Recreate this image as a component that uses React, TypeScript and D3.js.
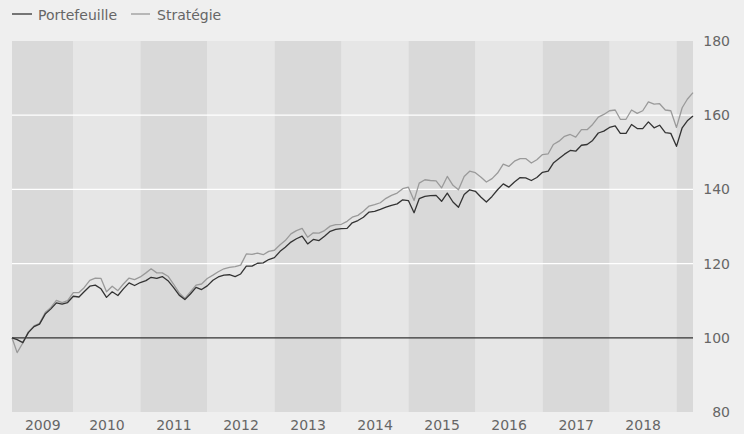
import React from "react";
import * as d3 from "d3";

const WIDTH = 744;
const HEIGHT = 434;

// Monthly month-end observations, Jan 2009 – Mar 2019
const startMonth = "2009-01";
const endMonth = "2019-03";

const portefeuille = [
  100, 99.5, 98.7, 101.4, 103.0, 103.7, 106.4, 107.8, 109.4, 109.1, 109.5, 111.2,
  111.0, 112.4, 113.9, 114.2, 113.2, 110.9, 112.4, 111.4, 113.2, 114.8, 114.1, 114.9,
  115.4, 116.3, 116.0, 116.5, 115.4, 113.6, 111.5, 110.3, 111.8, 113.6, 113.0, 114.0,
  115.5, 116.4, 116.9, 117.0, 116.5, 117.2, 119.3, 119.3, 120.1, 120.2, 121.1, 121.6,
  123.3, 124.4, 125.8, 126.7, 127.4, 125.3, 126.5, 126.2, 127.4, 128.7, 129.2, 129.4,
  129.5, 131.0, 131.6, 132.5, 133.9, 134.1, 134.6, 135.2, 135.7, 136.1, 137.2, 137.0,
  133.7, 137.5, 138.1, 138.3, 138.4, 136.8, 139.0, 136.6, 135.2, 138.6, 139.9, 139.5,
  137.9, 136.6, 138.1, 139.9, 141.5, 140.6, 142.0, 143.2, 143.1, 142.4, 143.2, 144.6,
  144.9, 147.1, 148.3, 149.5, 150.5, 150.3, 151.9, 152.1, 153.2, 155.2, 155.7, 156.7,
  157.1, 155.1, 155.1, 157.5, 156.4, 156.4, 158.2, 156.6, 157.3, 155.3, 155.1, 151.6,
  156.6, 158.5, 159.8,
];

const strategie = [
  100, 96.0, 98.6, 101.6, 103.2, 103.9, 106.8, 108.2, 110.1, 109.5, 110.0, 112.2,
  112.2, 113.5, 115.5, 116.1, 116.0, 112.4, 113.9, 112.7, 114.5, 116.1, 115.7, 116.4,
  117.5, 118.6, 117.5, 117.5, 116.6, 114.5, 112.1, 110.6, 112.4, 114.2, 114.5, 116.0,
  116.9, 117.8, 118.6, 119.0, 119.2, 119.6, 122.6, 122.5, 122.8, 122.4, 123.3, 123.6,
  125.1, 126.2, 128.0, 128.9, 129.5, 127.1, 128.3, 128.2, 128.9, 130.1, 130.5, 130.6,
  131.4, 132.5, 133.0, 134.1, 135.5, 135.9, 136.4, 137.6, 138.4, 139.0, 140.2, 140.6,
  137.0, 141.7, 142.6, 142.4, 142.3, 140.4, 143.5, 141.1, 139.9, 143.5, 144.9, 144.5,
  143.3, 142.0, 142.9, 144.4, 146.8, 146.2, 147.6, 148.3, 148.3, 147.1, 148.0, 149.4,
  149.6, 152.1, 153.0, 154.3, 154.8, 154.1, 156.1, 156.1, 157.5, 159.5, 160.2, 161.2,
  161.4, 158.9, 158.9, 161.4, 160.5, 161.2, 163.6, 163.0, 163.1, 161.4, 161.2, 156.7,
  162.0, 164.3, 166.1,
];

const yTicks = [80, 100, 120, 140, 160, 180];
const gridValues = [120, 140, 160];
const years = [2009, 2010, 2011, 2012, 2013, 2014, 2015, 2016, 2017, 2018, 2019];

const seriesNames = ["Portefeuille", "Stratégie"];
const seriesColors = ["#333333", "#9a9a9a"];

const FONT = "'DejaVu Sans', Verdana, sans-serif";

export default function App() {
  const parseMonth = d3.timeParse("%Y-%m");
  const m0 = parseMonth(startMonth) as Date;
  const m1 = parseMonth(endMonth) as Date;
  // month-end dates
  const dates = d3
    .timeMonth.range(m0, d3.timeMonth.offset(m1, 1))
    .map((d) => d3.timeDay.offset(d3.timeMonth.offset(d, 1), -1));

  const left = 12;
  const right = 693;
  const top = 41;
  const bottom = 412;

  const x = d3
    .scaleTime()
    .domain([dates[0], dates[dates.length - 1]])
    .range([left, right]);
  const y = d3.scaleLinear().domain([80, 180]).range([bottom, top]);

  const line = d3
    .line<number>()
    .x((_, i) => x(dates[i]))
    .y((v) => y(v))
    .curve(d3.curveLinear);

  const bands = years.map((yr) => {
    const a = Math.max(left, x(new Date(yr, 0, 1)));
    const b = Math.min(right, x(new Date(yr + 1, 0, 1)));
    return { yr, a, b };
  });

  return (
    <svg
      width={WIDTH}
      height={HEIGHT}
      style={{ position: "absolute", left: 0, top: 0, display: "block" }}
      fontFamily={FONT}
    >
      <rect x={0} y={0} width={WIDTH} height={HEIGHT} fill="#efefef" />
      {bands.map((b) => (
        <rect
          key={b.yr}
          x={b.a}
          y={top}
          width={Math.max(0, b.b - b.a)}
          height={bottom - top}
          fill={b.yr % 2 === 1 ? "#d9d9d9" : "#e6e6e6"}
        />
      ))}
      {gridValues.map((v) => (
        <line
          key={v}
          x1={left}
          x2={right}
          y1={y(v)}
          y2={y(v)}
          stroke="#ffffff"
          strokeWidth={1.2}
        />
      ))}
      <line
        x1={left}
        x2={right}
        y1={y(100)}
        y2={y(100)}
        stroke="#333333"
        strokeWidth={1.2}
      />
      <path
        d={line(strategie) || ""}
        fill="none"
        stroke={seriesColors[1]}
        strokeWidth={1.3}
        strokeLinejoin="round"
      />
      <path
        d={line(portefeuille) || ""}
        fill="none"
        stroke={seriesColors[0]}
        strokeWidth={1.3}
        strokeLinejoin="round"
      />
      {yTicks.map((v) => (
        <text
          key={v}
          x={730}
          y={y(v)}
          dy="0.36em"
          textAnchor="end"
          fontSize={14}
          fill="#666666"
        >
          {v}
        </text>
      ))}
      {bands
        .filter((b) => b.b - b.a > 40)
        .map((b) => (
          <text
            key={b.yr}
            x={(b.a + b.b) / 2}
            y={430}
            textAnchor="middle"
            fontSize={14}
            fill="#666666"
          >
            {b.yr}
          </text>
        ))}
      <g>
        <line x1={12} x2={32} y1={14} y2={14} stroke={seriesColors[0]} strokeWidth={1.3} />
        <text x={38} y={19.5} fontSize={14} fill="#666666">
          {seriesNames[0]}
        </text>
        <line x1={131} x2={150} y1={14} y2={14} stroke={seriesColors[1]} strokeWidth={1.3} />
        <text x={157} y={19.5} fontSize={14} fill="#666666">
          {seriesNames[1]}
        </text>
      </g>
    </svg>
  );
}
